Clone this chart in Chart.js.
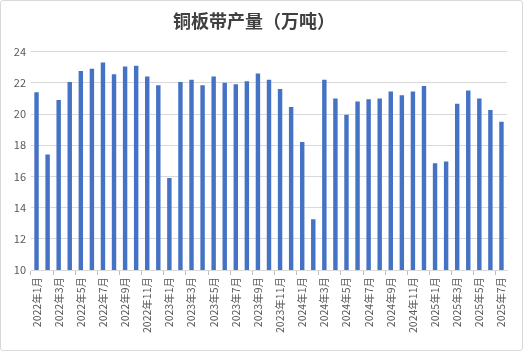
<!DOCTYPE html>
<html><head><meta charset="utf-8">
<script src="https://cdn.jsdelivr.net/npm/chart.js@4"></script>
<style>
html,body{margin:0;padding:0;background:#fff;}
#wrap{width:523px;height:351px;box-sizing:border-box;border:1px solid #d9d9d9;border-radius:3px;position:relative;}
canvas{display:block;}
</style></head><body>
<div id="wrap"><canvas id="c" width="521" height="349"></canvas></div>
<script>
const title = "铜板带产量（万吨）";
const years = [2022, 2023, 2024, 2025];
const categories = [];
for (const y of years) {
  for (let m = 1; m <= 12; m++) {
    if (y === 2025 && m > 7) break;
    categories.push(y + "年" + m + "月");
  }
}
const production = [
  21.4, 17.4, 20.9, 22.05, 22.75, 22.9, 23.3, 22.55, 23.05, 23.1, 22.4, 21.85,
  15.9, 22.05, 22.2, 21.85, 22.4, 22.0, 21.9, 22.1, 22.6, 22.2, 21.6, 20.45,
  18.2, 13.25, 22.2, 21.0, 19.95, 20.8, 20.95, 21.0, 21.45, 21.2, 21.45, 21.8,
  16.85, 16.95, 20.65, 21.5, 21.0, 20.25, 19.5
];
const yTicks = [10, 12, 14, 16, 18, 20, 22, 24];

new Chart(document.getElementById('c'), {
  type: 'bar',
  data: {
    labels: categories,
    datasets: [{
      label: title,
      data: production,
      backgroundColor: '#4472C4',
      barPercentage: 0.4,
      categoryPercentage: 1.0
    }]
  },
  options: {
    responsive: false,
    animation: false,
    layout: { padding: { left: 0, right: 15, top: 0, bottom: 0 } },
    plugins: {
      legend: { display: false },
      tooltip: { enabled: false },
      title: {
        display: true,
        text: title,
        color: '#404040',
        font: { family: "'Noto Sans CJK SC'", size: 18, weight: 'bold' },
        padding: { top: 9, bottom: 20 }
      }
    },
    scales: {
      x: {
        offset: true,
        grid: {
          offset: true,
          drawOnChartArea: false,
          drawTicks: true,
          tickLength: 5,
          color: (ctx) => (ctx.index % 2 === 0 ? '#bfbfbf' : 'rgba(0,0,0,0)')
        },
        border: { display: true, color: '#d9d9d9' },
        ticks: {
          autoSkip: false,
          maxRotation: 90,
          minRotation: 90,
          color: '#595959',
          padding: 2,
          font: { family: "'Noto Sans CJK SC'", size: 10.5 },
          callback: function (v, i) { return i % 2 === 0 ? categories[i] : ''; }
        },
        afterFit: (s) => { s.height = 80; }
      },
      y: {
        min: 10,
        max: 24,
        afterBuildTicks: (s) => { s.ticks = yTicks.map(v => ({ value: v })); },
        grid: { color: '#d9d9d9', drawTicks: false },
        border: { display: false },
        ticks: {
          color: '#595959',
          padding: 5,
          font: { family: "'Noto Sans CJK SC'", size: 11 }
        },
        afterFit: (s) => { s.width = 30; }
      }
    }
  }
});
</script>
</body></html>
